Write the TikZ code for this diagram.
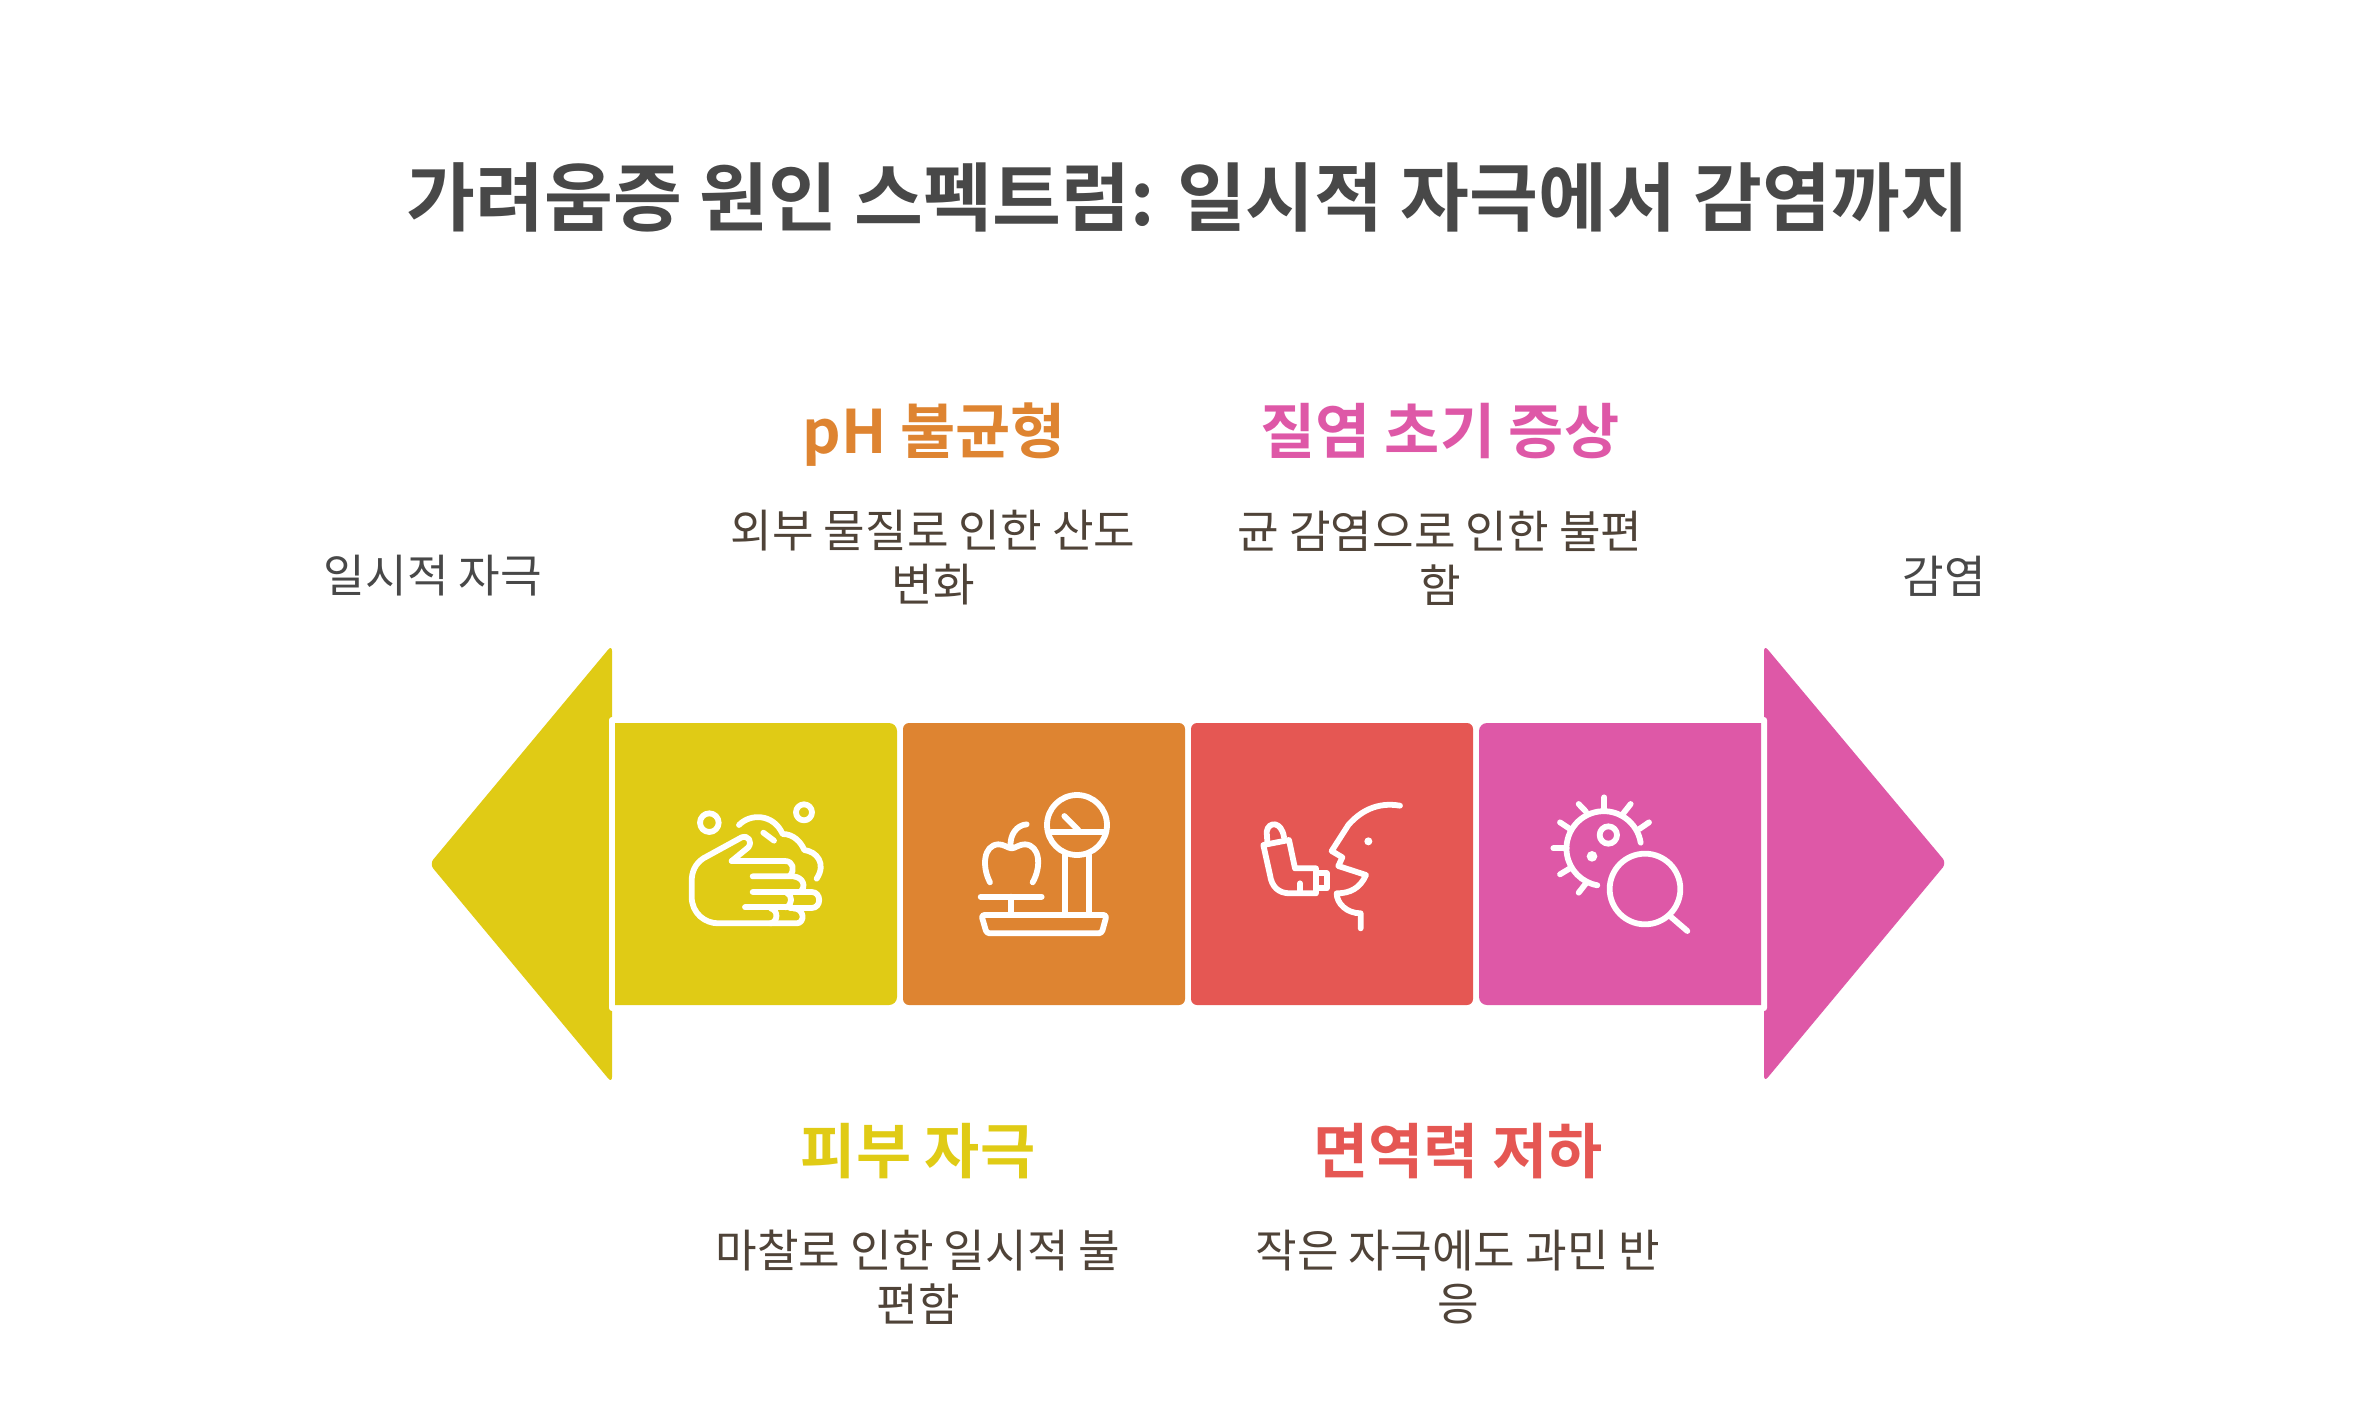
\documentclass[tikz,border=0pt]{standalone}
\usepackage{fontspec}
\setmainfont{Noto Sans CJK KR}
\newfontfamily\krbold{Noto Sans CJK KR Bold}
\definecolor{cyel}{HTML}{E0CB15}
\definecolor{cora}{HTML}{DE8431}
\definecolor{cred}{HTML}{E55753}
\definecolor{cpnk}{HTML}{DE58A7}
\definecolor{ctitle}{HTML}{484848}
\definecolor{cbody}{HTML}{4F4338}
\tikzset{
 x=0.5pt,y=-0.5pt,
 panel/.style={rounded corners=3pt,draw=none},
 ico/.style={draw=white,line width=2.9pt,line cap=round,line join=round},
 tbody/.style={font=\fontsize{22.6}{27}\selectfont,text=cbody,inner sep=0pt,anchor=center},
 thead/.style={font=\krbold\fontsize{30}{36}\selectfont,inner sep=0pt,anchor=center},
}
\begin{document}
\begin{tikzpicture}
\useasboundingbox (0,0) rectangle (2376,1418);
% arrow heads
\fill[cyel,rounded corners=3pt] (612,645) -- (612,1083) -- (429.5,864) -- cycle;
\fill[cpnk,rounded corners=3pt] (1764,645) -- (1946.5,863) -- (1764,1082) -- cycle;
\fill[white,rounded corners=1.5pt] (609,717) rectangle (625,1011);
\fill[white,rounded corners=1.5pt] (1751,717) rectangle (1767,1011);
% panels
\fill[cyel] (615,723) -- (889,723) arc[start angle=-90,end angle=0,radius=8] -- (897,997) arc[start angle=0,end angle=90,radius=8] -- (615,1005) -- cycle;
\node[panel,fill=cora,minimum width=141pt,minimum height=141pt,inner sep=0pt] (p2) at (1044,864) {};
\node[panel,fill=cred,minimum width=141pt,minimum height=141pt,inner sep=0pt] (p3) at (1332,864) {};
\fill[cpnk] (1761,723) -- (1487,723) arc[start angle=-90,end angle=-180,radius=8] -- (1479,997) arc[start angle=180,end angle=90,radius=8] -- (1761,1005) -- cycle;
% hand icon
\begin{scope}[shift={(650,760)},scale=1/3]
\draw[ico] (178,188) circle[radius=28];
\draw[ico] (462,157) circle[radius=24];
\draw[ico] (267,195) .. controls (300,160) and (370,160) .. (398,222) .. controls (430,222) and (452,245) .. (463,270) .. controls (500,275) and (530,310) .. (500,356);
\draw[ico] (340,218) -- (372,242);
\draw[ico] (245,303) -- (295,262) .. controls (308,245) and (295,225) .. (275,232) -- (160,295) .. controls (135,312) and (125,335) .. (125,365) -- (125,410) .. controls (125,460) and (165,490) .. (205,490) -- (440,490) .. controls (465,490) and (465,445) .. (430,445);
\draw[ico] (245,303) -- (405,303) .. controls (430,303) and (435,330) .. (420,347);
\draw[ico] (308,349) -- (430,349) .. controls (460,352) and (470,380) .. (450,396);
\draw[ico] (308,396) -- (485,396) .. controls (515,396) and (515,444) .. (485,444) -- (420,444);
\draw[ico] (410,398) .. controls (428,405) and (428,435) .. (408,442);
\draw[ico] (285,442) -- (408,442);
\draw[ico] (362,445) .. controls (385,450) and (385,485) .. (362,490);
\end{scope}
% scale icon
\begin{scope}[shift={(650,760)},scale=1/3]
\draw[ico] (1281,195) circle[radius=90];
\draw[ico] (1203,215) -- (1360,215);
\draw[ico] (1243,168) -- (1285,210);
\draw[ico] (1245,285) -- (1245,463);
\draw[ico] (1317,285) -- (1317,463);
\draw[ico,rounded corners=1.5pt] (994,465) -- (1370,465) -- (1355,520) -- (1010,520) -- cycle;
\draw[ico] (992,410) -- (1175,410);
\draw[ico] (1084,410) -- (1084,463);
\draw[ico] (1020,367) .. controls (995,320) and (1000,255) .. (1045,253) .. controls (1060,252) and (1075,265) .. (1085,265) .. controls (1095,265) and (1110,252) .. (1125,253) .. controls (1170,255) and (1175,320) .. (1148,367);
\draw[ico] (1082,262) .. controls (1078,225) and (1100,195) .. (1130,193);
\end{scope}
% inhaler icon
\begin{scope}[shift={(1220,760)},scale=1/3]
\draw[ico] (540,137) .. controls (470,125) and (420,155) .. (385,195) -- (335,273) -- (367,292) -- (355,318) -- (438,345) .. controls (420,385) and (390,400) .. (350,400) .. controls (350,430) and (380,460) .. (422,460) -- (422,505);
\fill[white] (445,244) circle[radius=12];
\draw[ico] (130,255) -- (207,240) -- (225,325) -- (288,325) -- (288,400) -- (210,400) .. controls (175,400) and (155,380) .. (150,345) -- cycle;
\draw[ico] (142,245) -- (140,215) .. controls (145,183) and (185,183) .. (192,232);
\draw[ico] (292,340) -- (320,340) -- (320,385) -- (292,385);
\draw[ico] (240,370) -- (240,398);
\end{scope}
% pathogen icon
\begin{scope}[shift={(1220,760)},scale=1/3]
\draw[ico] (1262,248) arc[start angle=-9,end angle=-260,radius=112];
\draw[ico] (1153,150) -- (1153,112);
\draw[ico] (1098,155) -- (1076,132);
\draw[ico] (1210,160) -- (1232,132);
\draw[ico] (1258,207) -- (1287,187);
\draw[ico] (1050,207) -- (1020,187);
\draw[ico] (1040,265) -- (1000,265);
\draw[ico] (1050,325) -- (1020,343);
\draw[ico] (1098,370) -- (1076,398);
\draw[ico] (1165,225) circle[radius=26];
\fill[white] (1116,289) circle[radius=16];
\draw[ico] (1275,387) circle[radius=106];
\draw[ico] (1352,470) -- (1402,513);
\end{scope}
% texts
\node[inner sep=0pt,text=ctitle,font=\krbold\fontsize{37.45}{45}\selectfont] (title) at (1188,197) {가려움증 원인 스펙트럼: 일시적 자극에서 감염까지};
\node[thead,text=cora] (h2) at (934,435) {pH 불균형};
\node[thead,text=cpnk] (h4) at (1440,431) {질염 초기 증상};
\node[thead,text=cyel] (h1) at (918,1151) {피부 자극};
\node[thead,text=cred] (h3) at (1458,1151) {면역력 저하};
\node[tbody] (b2a) at (933,531) {외부 물질로 인한 산도};
\node[tbody] (b2b) at (933,585) {변화};
\node[tbody] (b4a) at (1440,531) {균 감염으로 인한 불편};
\node[tbody] (b4b) at (1440,585) {함};
\node[tbody] (b1a) at (918,1251) {마찰로 인한 일시적 불};
\node[tbody] (b1b) at (918,1304) {편함};
\node[tbody] (b3a) at (1458,1251) {작은 자극에도 과민 반};
\node[tbody] (b3b) at (1458,1304) {응};
\node[tbody,text=ctitle] (lft) at (433,576) {일시적 자극};
\node[tbody,text=ctitle] (rgt) at (1944,576) {감염};
\end{tikzpicture}
\end{document}
